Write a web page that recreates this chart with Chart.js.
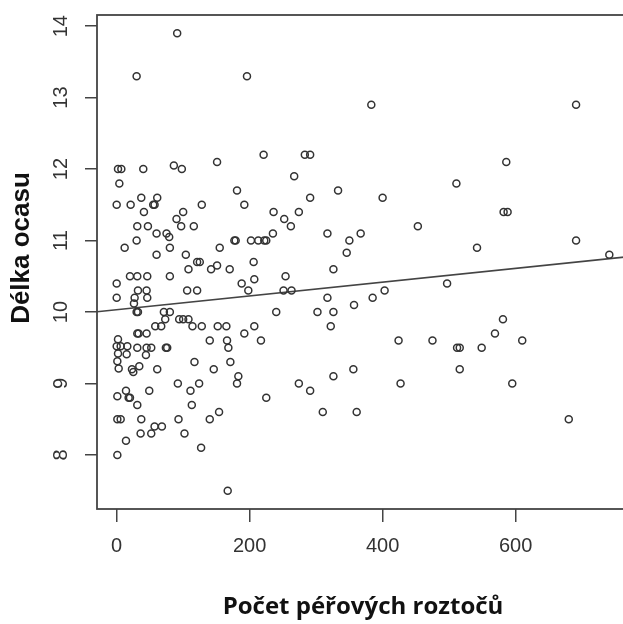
<!DOCTYPE html>
<html><head><meta charset="utf-8">
<script src="https://cdn.jsdelivr.net/npm/chart.js@4/dist/chart.umd.min.js"></script>
<style>html,body{margin:0;padding:0;background:#fff;overflow:hidden;width:623px;height:624px}canvas{display:block}</style>
</head><body>
<canvas id="c" width="640" height="624" style="width:640px;height:624px"></canvas>
<script>
// Počet péřových roztočů (x) vs Délka ocasu (y)
const mites = [
  91,30,196,383,691,
  221,283,291,
  151,586,
  2,7,40,86,98,
  267,
  4,511,
  181,333,
  37,61,291,400,
  0,21,55,57,128,192,
  41,100,236,274,582,588,
  90,252,
  31,47,97,116,262,453,
  60,75,79,235,317,367,
  30,177,179,202,213,222,225,350,691,
  12,80,155,542,
  60,104,346,741,
  121,125,206,
  108,142,151,170,326,
  20,31,46,80,254,207,
  0,188,497,
  32,45,106,121,198,251,263,403,
  0,27,46,317,385,
  26,357,
  30,32,71,80,240,302,326,
  73,94,100,108,581,
  58,67,114,128,152,165,207,322,
  31,33,45,192,569,
  2,140,166,217,424,475,610,
  0,6,16,31,45,52,74,76,168,512,516,549,
  2,15,44,
  1,117,171,
  3,23,25,34,61,146,356,516,
  183,326,
  92,124,181,274,427,595,
  14,49,111,291,
  1,18,20,225,
  31,113,
  154,310,361,
  1,6,37,93,140,680,
  57,68,
  36,52,102,
  14,
  127,
  1,
  167
];
const tailLength = [
  13.9,13.3,13.3,12.9,12.9,
  12.2,12.2,12.2,
  12.1,12.1,
  12.0,12.0,12.0,12.05,12.0,
  11.9,
  11.8,11.8,
  11.7,11.7,
  11.6,11.6,11.6,11.6,
  11.5,11.5,11.5,11.5,11.5,11.5,
  11.4,11.4,11.4,11.4,11.4,11.4,
  11.3,11.3,
  11.2,11.2,11.2,11.2,11.2,11.2,
  11.1,11.1,11.05,11.1,11.1,11.1,
  11.0,11.0,11.0,11.0,11.0,11.0,11.0,11.0,11.0,
  10.9,10.9,10.9,10.9,
  10.8,10.8,10.83,10.8,
  10.7,10.7,10.7,
  10.6,10.6,10.65,10.6,10.6,
  10.5,10.5,10.5,10.5,10.5,10.46,
  10.4,10.4,10.4,
  10.3,10.3,10.3,10.3,10.3,10.3,10.3,10.3,
  10.2,10.2,10.2,10.2,10.2,
  10.12,10.1,
  10.0,10.0,10.0,10.0,10.0,10.0,10.0,
  9.9,9.9,9.9,9.9,9.9,
  9.8,9.8,9.8,9.8,9.8,9.8,9.8,9.8,
  9.7,9.7,9.7,9.7,9.7,
  9.62,9.6,9.6,9.6,9.6,9.6,9.6,
  9.52,9.52,9.52,9.5,9.5,9.5,9.5,9.5,9.5,9.5,9.5,9.5,
  9.42,9.41,9.4,
  9.31,9.3,9.3,
  9.21,9.2,9.16,9.24,9.2,9.2,9.2,9.2,
  9.1,9.1,
  9.0,9.0,9.0,9.0,9.0,9.0,
  8.9,8.9,8.9,8.9,
  8.82,8.8,8.8,8.8,
  8.7,8.7,
  8.6,8.6,8.6,
  8.5,8.5,8.5,8.5,8.5,8.5,
  8.4,8.4,
  8.3,8.3,8.3,
  8.2,
  8.1,
  8.0,
  7.5
];
const xTickValues = [0, 200, 400, 600];
const yTickValues = [8, 9, 10, 11, 12, 13, 14];
const fitIntercept = 10.032;
const fitSlope = 0.000964;
const xTitle = 'Počet péřových roztočů';
const yTitle = 'Délka ocasu';
const X_MIN = -29.6, X_MAX = 770.6, Y_MIN = 7.244, Y_MAX = 14.156;

const points = mites.map((x, i) => ({x: x, y: tailLength[i]}));
const fitLine = [X_MIN, X_MAX].map(x => ({x: x, y: fitIntercept + fitSlope * x}));

const INK = '#333';

const framePlugin = {
  id: 'frame',
  afterDraw(chart) {
    const {ctx, chartArea: a} = chart;
    ctx.save();
    ctx.strokeStyle = '#444';
    ctx.lineWidth = 1.8;
    ctx.strokeRect(a.left, a.top, a.right - a.left, a.bottom - a.top);
    // y axis title (R places it left of the plot)
    ctx.translate(22, 248);
    ctx.rotate(-Math.PI / 2);
    ctx.font = 'bold 26px "Liberation Sans", Arial, sans-serif';
    ctx.fillStyle = '#111';
    ctx.textAlign = 'center';
    ctx.textBaseline = 'middle';
    ctx.fillText(yTitle, 0, 0);
    ctx.restore();
  }
};

new Chart(document.getElementById('c'), {
  data: {
    datasets: [
      {
        type: 'scatter',
        data: points,
        pointStyle: 'circle',
        pointRadius: 3.5,
        pointBorderWidth: 1.5,
        borderColor: INK,
        backgroundColor: 'rgba(0,0,0,0)',
        pointBackgroundColor: 'rgba(0,0,0,0)',
        pointBorderColor: INK
      },
      {
        type: 'line',
        data: fitLine,
        borderColor: '#444',
        borderWidth: 1.6,
        pointRadius: 0,
        fill: false
      }
    ]
  },
  options: {
    responsive: false,
    animation: false,
    events: [],
    layout: {padding: {left: 0, top: 15, right: 11, bottom: 0}},
    plugins: {legend: {display: false}, tooltip: {enabled: false}},
    scales: {
      x: {
        type: 'linear',
        min: X_MIN, max: X_MAX,
        afterBuildTicks: s => { s.ticks = xTickValues.map(v => ({value: v})); },
        afterFit: s => { s.height = 115; s.paddingLeft = 0; s.paddingRight = 0; },
        grid: {drawOnChartArea: false, drawTicks: true, tickLength: 13, color: '#444', lineWidth: 1.5},
        border: {display: false},
        ticks: {font: {family: '"Liberation Sans", Arial, sans-serif', size: 20}, color: '#333', padding: 12, maxRotation: 0, minRotation: 0},
        title: {display: true, text: xTitle, color: '#111', font: {family: '"Open Sans", sans-serif', size: 24, weight: 'bold'}, padding: {top: 0, bottom: 2}}
      },
      y: {
        type: 'linear',
        min: Y_MIN, max: Y_MAX,
        afterBuildTicks: s => { s.ticks = yTickValues.map(v => ({value: v})); },
        afterFit: s => { s.width = 97; s.paddingTop = 0; s.paddingBottom = 0; },
        grid: {drawOnChartArea: false, drawTicks: true, tickLength: 12, color: '#444', lineWidth: 1.5},
        border: {display: false},
        ticks: {font: {family: '"Liberation Sans", Arial, sans-serif', size: 20}, color: '#333', padding: 12, minRotation: 90, maxRotation: 90, crossAlign: 'center'}
      }
    }
  },
  plugins: [framePlugin]
});
</script>
</body></html>
